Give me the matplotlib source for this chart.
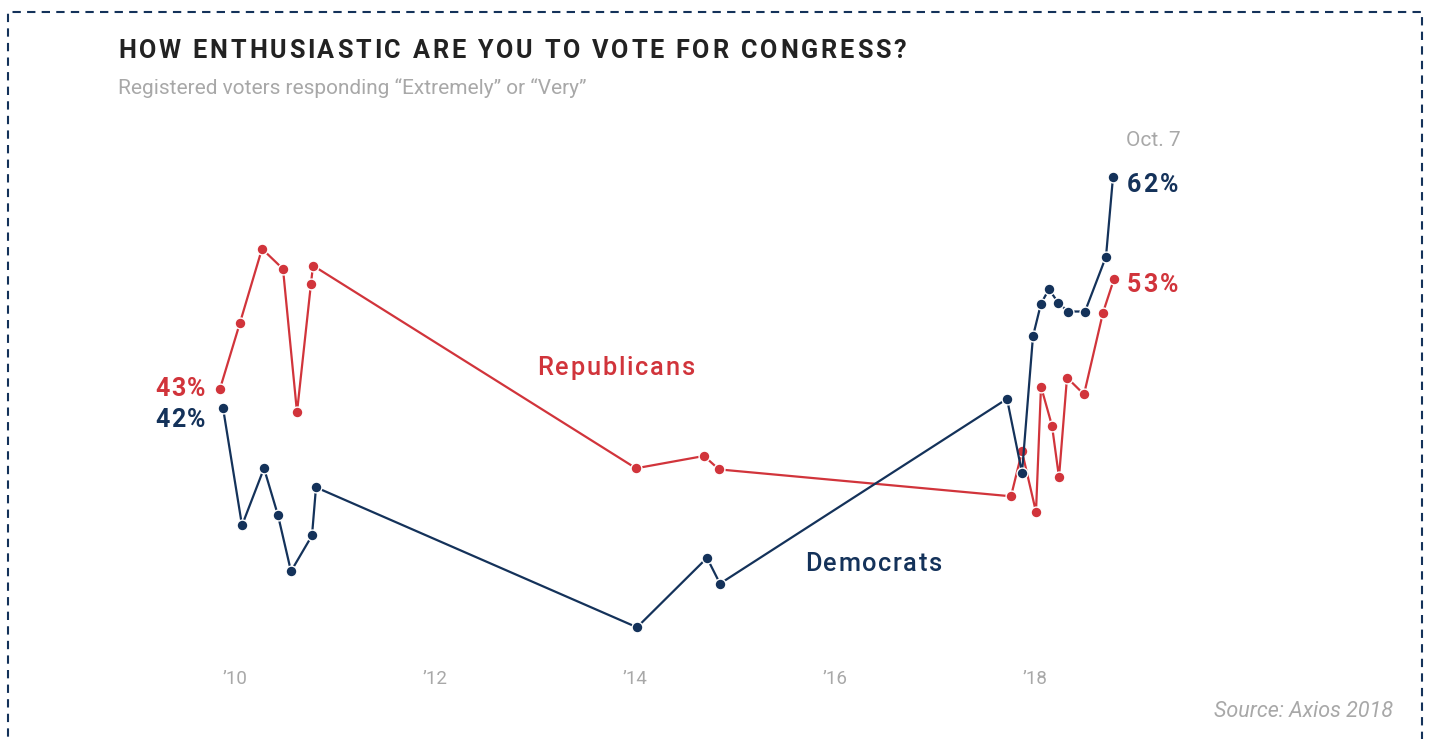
import matplotlib
matplotlib.use("Agg")
import matplotlib.pyplot as plt
from matplotlib.patches import Rectangle

plt.rcParams['font.family'] = ['Roboto', 'DejaVu Sans']

RED = '#d1343b'
NAVY = '#14325a'
GRAY = '#a8a8a8'

# poll dates (decimal years) and share answering "Extremely"/"Very" (%)
rep_dates = [2009.85, 2010.05, 2010.27, 2010.48, 2010.62, 2010.76, 2010.78,
             2014.01, 2014.69, 2014.84, 2017.76, 2017.87, 2018.01, 2018.06,
             2018.17, 2018.24, 2018.32, 2018.49, 2018.68, 2018.79]
rep_vals = [43.2, 49.1, 55.7, 53.9, 41.1, 52.6, 54.2,
            36.1, 37.2, 36.0, 33.6, 37.6, 32.2, 43.4,
            39.9, 35.3, 44.2, 42.7, 50.0, 53.0]

dem_dates = [2009.88, 2010.07, 2010.29, 2010.43, 2010.56, 2010.77, 2010.81,
             2014.02, 2014.72, 2014.85, 2017.72, 2017.87, 2017.98, 2018.06,
             2018.14, 2018.23, 2018.33, 2018.50, 2018.71, 2018.78]
dem_vals = [41.5, 31.0, 36.1, 31.9, 26.9, 30.1, 34.4,
            21.9, 28.1, 25.8, 42.3, 35.7, 47.9, 50.8,
            52.1, 50.9, 50.1, 50.1, 55.0, 62.1]

tick_years = [2010, 2012, 2014, 2016, 2018]
tick_labels = ['\u201910', '\u201912', '\u201914', '\u201916', '\u201918']

W, H = 1430, 739
fig = plt.figure(figsize=(W / 100, H / 100), dpi=100)
rend = fig.canvas.get_renderer()


def tracked(x, y, s, width, ha='left', **kw):
    # letter-spaced text: x, y in pixels from top-left, y = baseline
    def adv(t):
        tt = fig.text(0, 0, t + 'I', **kw)
        w = tt.get_window_extent(rend).width
        tt.remove()
        return w
    base = adv('')
    offs = [adv(s[:i]) - base for i in range(len(s) + 1)]
    track = (width - offs[-1]) / max(len(s) - 1, 1)
    x0 = {'left': x, 'right': x - width, 'center': x - width / 2}[ha]
    if abs(track) < 0.6:
        fig.text(x0 / W, 1 - y / H, s, va='baseline', ha='left', **kw)
        return
    for i, ch in enumerate(s):
        if ch != ' ':
            fig.text((x0 + offs[i] + i * track) / W, 1 - y / H, ch,
                     va='baseline', ha='left', **kw)


# axes box in pixels: left 150, right 1200, top 120, bottom 650
ax = fig.add_axes([150 / W, 1 - 650 / H, 1050 / W, 530 / H])
ax.set_xlim(2009.15, 2019.65)
ax.set_ylim(19.875, 67.2)

for dates, vals, col in [(rep_dates, rep_vals, RED), (dem_dates, dem_vals, NAVY)]:
    ax.plot(dates, vals, color=col, lw=1.6, marker='o', ms=7.8,
            mec='white', mew=1.0, solid_joinstyle='round', zorder=3)

ax.set_xticks(tick_years)
ax.set_xticklabels(tick_labels, fontsize=13.5, color=GRAY, fontweight='normal')
ax.tick_params(axis='x', length=0, pad=14.5)
ax.set_yticks([])
for s in ax.spines.values():
    s.set_visible(False)

tracked(118, 57.5, 'HOW ENTHUSIASTIC ARE YOU TO VOTE FOR CONGRESS?', 788,
        fontsize=18.2, fontweight='bold', color='#222222')
fig.text(118 / W, 1 - 94 / H,
         'Registered voters responding \u201cExtremely\u201d or \u201cVery\u201d',
         fontsize=15.0, fontweight='normal', color=GRAY, va='baseline', ha='left')

tracked(155, 396, '43%', 50, fontsize=18, fontweight='bold', color=RED)
tracked(155, 427, '42%', 50, fontsize=18, fontweight='bold', color=NAVY)
tracked(1127, 192, '62%', 51, fontsize=18, fontweight='bold', color=NAVY)
tracked(1127, 292, '53%', 51, fontsize=18, fontweight='bold', color=RED)
fig.text(1126 / W, 1 - 146 / H, 'Oct. 7', fontsize=15, fontweight='normal',
         color=GRAY, va='baseline', ha='left')

tracked(537, 375, 'Republicans', 158, fontsize=18.3, fontweight='medium', color=RED)
tracked(805, 571, 'Democrats', 137, fontsize=18.3, fontweight='medium', color=NAVY)

fig.text(1393 / W, 1 - 717 / H, 'Source: Axios 2018', fontsize=15.5,
         fontweight='normal', style='italic', color=GRAY, va='baseline', ha='right')

# dashed frame
fig.patches.append(Rectangle((8 / W, -0.05), 1414 / W, 1 - 12 / H + 0.05,
                             transform=fig.transFigure, fill=False,
                             edgecolor=NAVY, lw=1.5, ls=(0, (4, 3))))

fig.savefig('out.png', dpi=100)
